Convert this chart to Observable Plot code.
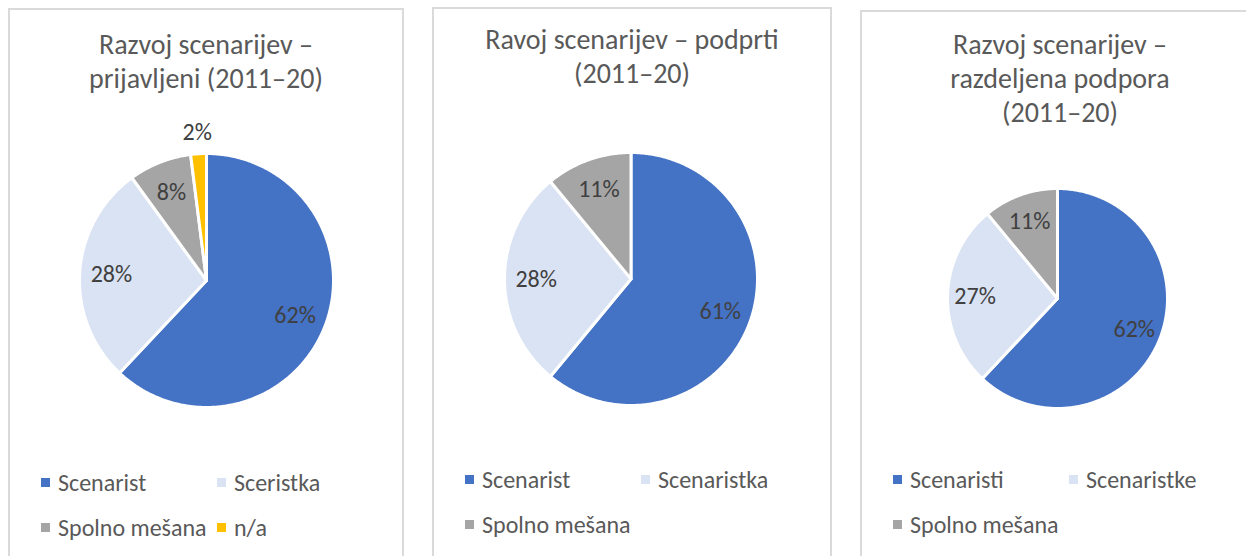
<!DOCTYPE html>
<html><head><meta charset="utf-8">
<script src="https://cdn.jsdelivr.net/npm/d3@7"></script>
<script src="https://cdn.jsdelivr.net/npm/@observablehq/plot@0.6"></script>
<style>
body{margin:0;width:1246px;height:556px;overflow:hidden;background:#fff;font-family:Carlito,Lato,sans-serif;position:relative}
.panel{position:absolute;border:2px solid #dadada;box-sizing:border-box;height:620px}
.title{position:absolute;left:0;right:0;text-align:center;color:#595959;font-size:28px;line-height:34px}
.pie{position:absolute}
.leg{position:absolute;color:#595959;font-size:24px;white-space:nowrap;display:grid;grid-template-columns:176px auto;grid-auto-rows:45px;align-items:center}
.item{display:flex;align-items:center}
.sw{display:inline-block;width:9px;height:9px;margin-right:8px}
</style></head><body>
<script>
// ---- data ----
const categories1 = ["Scenarist", "Sceristka", "Spolno mešana", "n/a"];
const values1 = [62, 28, 8, 2];
const categories2 = ["Scenarist", "Scenaristka", "Spolno mešana"];
const values2 = [61, 28, 11];
const categories3 = ["Scenaristi", "Scenaristke", "Spolno mešana"];
const values3 = [62, 27, 11];
const titles1 = ["Razvoj scenarijev –", "prijavljeni (2011–20)"];
const titles2 = ["Ravoj scenarijev – podprti", "(2011–20)"];
const titles3 = ["Razvoj scenarijev –", "razdeljena podpora", "(2011–20)"];
const colors = ["#4472C4", "#DAE3F3", "#A5A5A5", "#FFC000"];

// ---- layout (style only) ----
const layouts = [
  {left: 8, top: 8, width: 396, titleTop: 28, cx: 206, cy: 280, r: 127, legTop: 460},
  {left: 432, top: 7, width: 400, titleTop: 23, cx: 630.5, cy: 278.5, r: 126.5, legTop: 457},
  {left: 860, top: 10, width: 400, titleTop: 28, cx: 1057, cy: 297.5, r: 110, legTop: 457}
];
const sets = [
  [categories1, values1, titles1],
  [categories2, values2, titles2],
  [categories3, values3, titles3]
];

function piePlot(cats, vals, r, size) {
  const arcs = d3.pie().sort(null).value(d => d)(vals);
  const pts = [];
  arcs.forEach((a, i) => {
    const n = Math.max(2, Math.ceil((a.endAngle - a.startAngle) / 0.01));
    pts.push({k: cats[i], x: 0, y: 0});
    for (let j = 0; j <= n; j++) {
      const t = a.startAngle + (a.endAngle - a.startAngle) * j / n;
      pts.push({k: cats[i], x: Math.sin(t), y: Math.cos(t)});
    }
    pts.push({k: cats[i], x: 0, y: 0});
  });
  const labels = arcs.map((a, i) => {
    const m = (a.startAngle + a.endAngle) / 2;
    const f = vals[i] < 5 ? 1.17 : 0.75;
    return {t: vals[i] + "%", x: f * Math.sin(m), y: f * Math.cos(m)};
  });
  const half = size / 2 / r;
  return Plot.plot({
    width: size, height: size, margin: 0,
    x: {domain: [-half, half], axis: null},
    y: {domain: [-half, half], axis: null},
    color: {domain: cats, range: colors},
    style: {background: "transparent", overflow: "visible"},
    marks: [
      Plot.line(pts, {x: "x", y: "y", z: "k", fill: "k", stroke: "white", strokeWidth: 3, strokeLinejoin: "round"}),
      Plot.text(labels, {x: "x", y: "y", text: "t", fill: "#404040", fontSize: 24, fontFamily: "Carlito, Lato, sans-serif"})
    ]
  });
}

layouts.forEach((L, p) => {
  const [cats, vals, title] = sets[p];
  const panel = document.createElement("div");
  panel.className = "panel";
  panel.style.left = L.left + "px";
  panel.style.top = L.top + "px";
  panel.style.width = L.width + "px";
  document.body.appendChild(panel);

  const t = document.createElement("div");
  t.className = "title";
  t.style.left = L.left + "px";
  t.style.width = L.width + "px";
  t.style.right = "auto";
  t.style.top = L.titleTop + "px";
  t.innerHTML = title.join("<br>");
  document.body.appendChild(t);

  const size = 2 * L.r + 80;
  const svgWrap = document.createElement("div");
  svgWrap.className = "pie";
  svgWrap.style.left = (L.cx - size / 2) + "px";
  svgWrap.style.top = (L.cy - size / 2) + "px";
  svgWrap.appendChild(piePlot(cats, vals, L.r, size));
  document.body.appendChild(svgWrap);

  const leg = document.createElement("div");
  leg.className = "leg";
  leg.style.left = (L.left + 33) + "px";
  leg.style.top = L.legTop + "px";
  cats.forEach((c, i) => {
    const it = document.createElement("div");
    it.className = "item";
    it.innerHTML = `<span class="sw" style="background:${colors[i]}"></span><span>${c}</span>`;
    leg.appendChild(it);
  });
  document.body.appendChild(leg);
});
</script>
</body></html>
